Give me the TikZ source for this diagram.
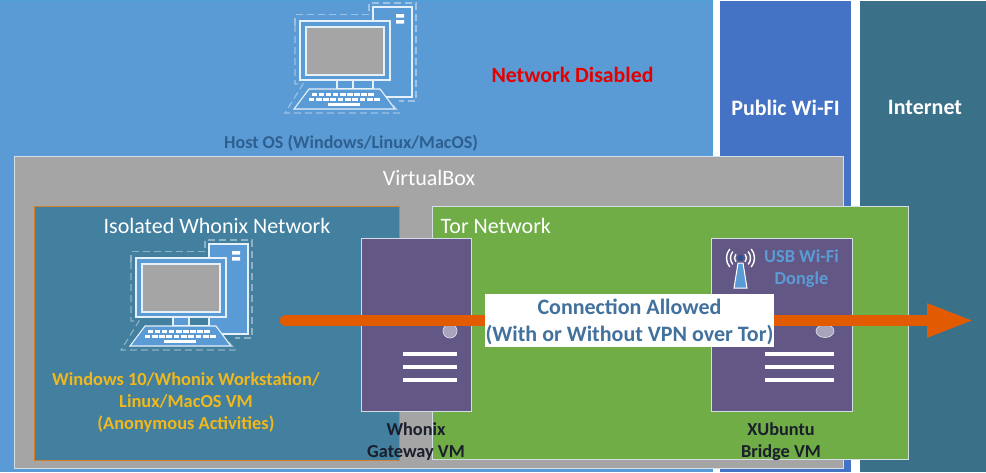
\documentclass[tikz,border=0pt]{standalone}
\usepackage{fontspec}
\setmainfont{Carlito}
\usetikzlibrary{arrows.meta}
\definecolor{hostblue}{HTML}{5B9BD5}
\definecolor{wifiblue}{HTML}{4472C4}
\definecolor{inetteal}{HTML}{3B7089}
\definecolor{vbgray}{HTML}{A5A5A5}
\definecolor{isoteal}{HTML}{43809F}
\definecolor{torgreen}{HTML}{70AD47}
\definecolor{srvpurple}{HTML}{635785}
\definecolor{arrowor}{HTML}{E35B00}
\definecolor{labblue}{HTML}{41719C}
\definecolor{hosttext}{HTML}{2E5F8E}
\definecolor{yellowt}{HTML}{F0B81C}
\definecolor{darkt}{HTML}{1A1F2B}
\definecolor{edgeg}{HTML}{D5DEE5}
\tikzset{
  x=1pt,y=-1pt,
  region/.style={draw=edgeg,line width=.8pt},
  srvbox/.style={fill=srvpurple,draw=edgeg,line width=.8pt},
  srvline/.style={draw=white,line width=4pt},
  srvdot/.style={fill=srvpurple!55!white,draw=edgeg,line width=.7pt},
  wt/.style={text=white,font=\fontsize{22}{26}\selectfont,inner sep=0pt},
  wb/.style={text=white,font=\fontsize{22}{26}\selectfont\bfseries,inner sep=0pt},
  vmlabel/.style={text=darkt,font=\fontsize{18.3}{22}\selectfont\bfseries,align=center,inner sep=0pt},
  iconline/.style={draw=white!85!hostblue,line width=1.1pt},
  icondash/.style={draw=white,draw opacity=.4,line width=1.1pt,dash pattern=on 7pt off 4pt},
  pcicon/.pic={
    \draw[icondash] (295,25) -- (295,14.5) -- (369,14.5) -- (369,3) -- (416,3) -- (416,101) -- (399,101);
    \draw[icondash] (295,25) -- (295,84) -- (303,84) -- (285,113) -- (400,113) -- (392,104);
    \draw[iconline,fill=hostblue] (373,7) rectangle (412,97);
    \fill[white] (396,14) rectangle (404,17.5) (396,20) rectangle (404,23.5);
    \draw[iconline,fill=hostblue] (337,80) rectangle (353,89);
    \draw[iconline] (353,80) rectangle (373,89);
    \draw[iconline,fill=hostblue] (300,21) rectangle (390,80);
    \draw[iconline,fill=vbgray] (306,27) rectangle (384,75);
    \draw[iconline,fill=hostblue] (309,89) -- (380,89) -- (395,109) -- (294,109) -- cycle;
    \foreach \i in {0,...,8} {\fill[white] ({311.5+\i*7.1},92.5) rectangle ++(5.6,3);}
    \foreach \i in {0,...,9} {\fill[white] ({308.5+\i*7.3},97.5) rectangle ++(5.7,3);}
    \fill[white] (328,102.5) rectangle (360,105.5);
  }
}
\begin{document}
\begin{tikzpicture}
\useasboundingbox (0,0) rectangle (986,472);
\fill[white] (0,0) rectangle (986,472);
% columns
\fill[hostblue] (0,0.5) rectangle (712,472);
\draw[cyan!40!hostblue,line width=1pt] (0,0.5) -- (712,0.5) -- (712,472);
\fill[wifiblue] (720,1) rectangle (851,472);
\fill[inetteal] (860,1) rectangle (986,472);
% boxes
\filldraw[region,fill=vbgray] (14,156) rectangle (843,468);
\filldraw[draw=orange!65!gray,line width=1pt,fill=isoteal] (34,206) rectangle (399,460);
\filldraw[region,fill=torgreen] (432,206) rectangle (908,459);
% servers
\path[srvbox] (361,238) rectangle (471,411);
\path[srvbox] (711,238) rectangle (852,411);
\path[srvdot] (450,331) circle (7);
\path[srvdot] (825,331) ellipse (9 and 6.5);
\foreach \y in {354,367,380} {
  \draw[srvline] (403,\y) -- (457,\y);
  \draw[srvline] (764.5,\y) -- (833.5,\y);
}
% icons
\pic at (0,0) {pcicon};
\pic at (-164,237) {pcicon};
% wifi
\filldraw[draw=white,line width=1pt,fill=hostblue] (738,263) -- (743,263) -- (747,288) -- (734,288) -- cycle;
\fill[wifiblue!70!black] (740.5,258) circle (3);
\foreach \r in {6,10,14} {
  \draw[white,line width=1.4pt] ({740.5+\r*cos(40)},{258-\r*sin(40)}) arc[start angle=-40,end angle=40,radius=\r];
  \draw[white,line width=1.4pt] ({740.5-\r*cos(40)},{258-\r*sin(40)}) arc[start angle=220,end angle=140,radius=\r];
}
% connector
\coordinate (flowstart) at (285,320.5);
\coordinate (flowend) at (974,320.5);
\draw[arrowor,line width=11pt,line cap=round,-{Triangle[length=47pt,width=31pt]}] (flowstart) -- (flowend);
% labels
\node[text=red!90!black,font=\fontsize{21.8}{26}\selectfont\bfseries,inner sep=0pt] (netdis) at (572.5,75) {Network Disabled};
\node[text=hosttext,font=\fontsize{18.1}{22}\selectfont\bfseries,inner sep=0pt] (hostos) at (351,143.5) {Host OS (Windows/Linux/MacOS)};
\node[wb] (pub) at (785.5,107.5) {Public Wi-FI};
\node[wb] (inet) at (925,107.5) {Internet};
\node[wt] (vbox) at (429,177.5) {VirtualBox};
\node[wt] (iso) at (217,226) {Isolated Whonix Network};
\node[wt,anchor=west] (tor) at (440.5,226) {Tor Network};
\node[text=yellowt,font=\fontsize{18.4}{22}\selectfont\bfseries,align=center,inner sep=0pt] (wsl) at (186,402.5) {Windows 10/Whonix Workstation/\\Linux/MacOS VM\\(Anonymous Activities)};
\node[text=hostblue,font=\fontsize{18.3}{22}\selectfont\bfseries,align=center,inner sep=0pt] (usb) at (801.5,269) {USB Wi-Fi\\Dongle};
\node[vmlabel] (gw) at (416,441.5) {Whonix\\Gateway VM};
\node[vmlabel] (br) at (781,441.5) {XUbuntu\\Bridge VM};
\node[fill=white,inner sep=0pt,minimum width=289pt,minimum height=53pt] (conn) at (629.5,320.5) {};
\node[text=labblue,font=\fontsize{22}{27}\selectfont\bfseries,align=center,inner sep=0pt] (conntext) at (629.5,321.5) {Connection Allowed\\(With or Without VPN over Tor)};
\end{tikzpicture}
\end{document}
